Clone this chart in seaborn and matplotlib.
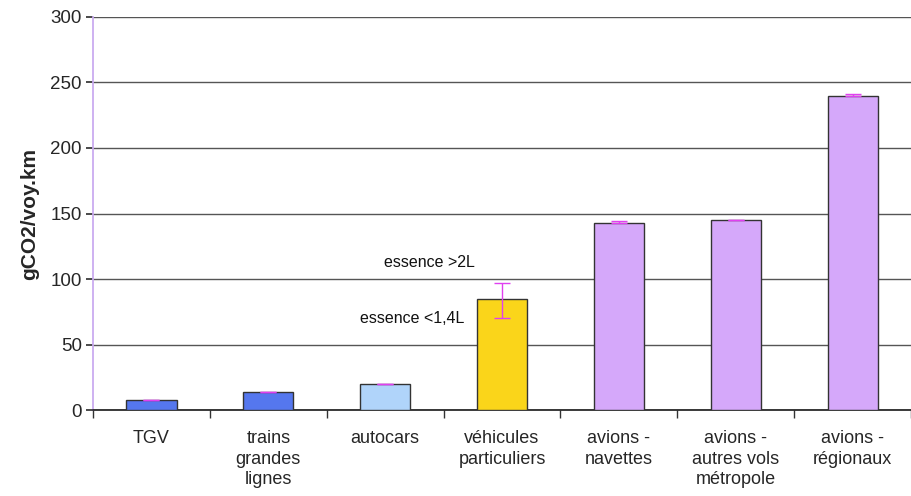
import numpy as np
import pandas as pd
import seaborn as sns
import matplotlib.pyplot as plt

categories = ["TGV", "trains\ngrandes\nlignes", "autocars", "véhicules\nparticuliers",
              "avions -\nnavettes", "avions -\nautres vols\nmétropole", "avions -\nrégionaux"]
values = [8, 14, 20, 85, 143, 145, 240]
err_low = [0, 0, 0, 15, 0, 0, 0]
err_high = [0, 0, 0, 12, 1, 0, 1]
colors = ["#5577EE", "#5577EE", "#B0D4FA", "#FAD51A", "#D5A8FA", "#D5A8FA", "#D5A8FA"]

df = pd.DataFrame({"cat": categories, "val": values})

sns.set_theme(style="white")
plt.rcParams['font.family'] = ['Liberation Sans', 'DejaVu Sans']

fig = plt.figure(figsize=(9.12, 4.96), dpi=100)
ax = fig.add_axes([0.102, 0.173, 0.897, 0.793])

sns.barplot(data=df, x="cat", y="val", hue="cat", palette=colors, legend=False,
            width=0.43, saturation=1, edgecolor="#333333", linewidth=1, ax=ax, zorder=3)

x = np.arange(len(categories))
ax.errorbar(x, values, yerr=[err_low, err_high], fmt="none", ecolor="#E040F0",
            elinewidth=1, capsize=6, capthick=1, zorder=4)

ax.text(2.38, 113, "essence >2L", ha="center", va="center", fontsize=11.5, color="#111111")
ax.text(2.23, 70, "essence <1,4L", ha="center", va="center", fontsize=11.5, color="#111111")

ax.set_ylim(0, 300)
ax.set_xlim(-0.5, len(categories) - 0.5)
ax.set_yticks(np.arange(0, 301, 50))
ax.yaxis.grid(True, color="#555555", linewidth=1)
ax.set_axisbelow(True)
ax.set_ylabel("gCO2/voy.km", fontsize=15, fontweight="bold", labelpad=8)
ax.set_xlabel("")
ax.tick_params(axis="y", labelsize=13.5, length=5, left=True, color="#333333", pad=3)
ax.tick_params(axis="x", which="major", labelsize=13, length=0, pad=14)
for lbl in ax.get_xticklabels():
    lbl.set_linespacing(1.3)
ax.set_xticks(np.arange(-0.5, len(categories), 1.0), minor=True)
ax.tick_params(axis="x", which="minor", length=6, bottom=True, color="#333333")
for s in ["top", "right"]:
    ax.spines[s].set_visible(False)
ax.spines["left"].set_color("#C8A8F0")
ax.spines["bottom"].set_color("#222222")

plt.savefig("out.png", dpi=100)
